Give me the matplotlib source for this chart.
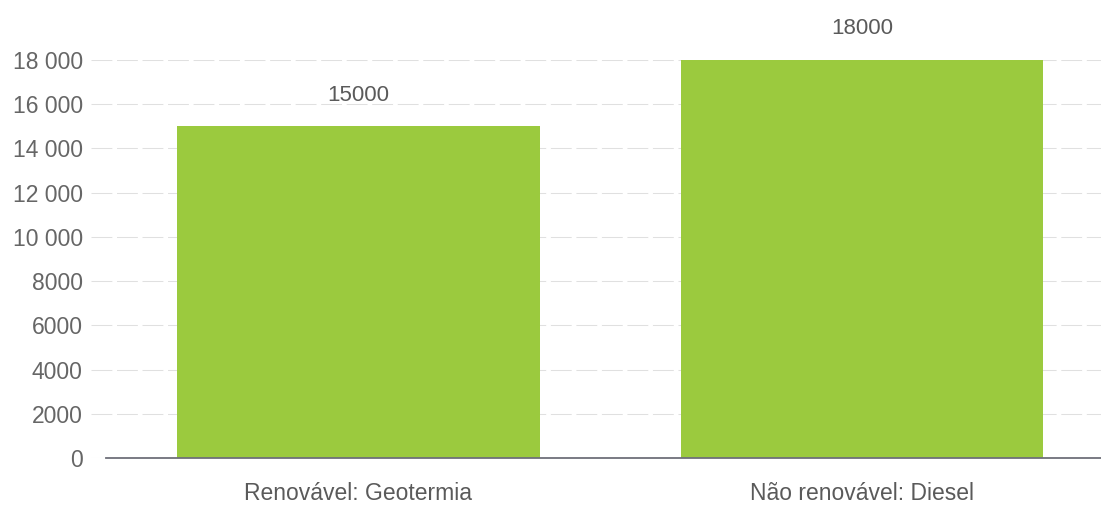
import matplotlib.pyplot as plt

categories = ["Renovável: Geotermia", "Não renovável: Diesel"]
values = [15000, 18000]
y_ticks = [0, 2000, 4000, 6000, 8000, 10000, 12000, 14000, 16000, 18000]
y_tick_labels = ["0", "2000", "4000", "6000", "8000", "10 000", "12 000", "14 000", "16 000", "18 000"]

plt.rcParams['font.family'] = ['Liberation Sans', 'DejaVu Sans']

W, H = 1101, 505
fig = plt.figure(figsize=(W / 100, H / 100), dpi=100)
# axes from x=91px to 1114px (past the right edge), y from 458px to 60px
ax = fig.add_axes([91 / W, (H - 458) / H, (1114 - 91) / W, (458 - 60) / H])

bar_color = '#9bca3e'
x_pos = range(len(categories))
ax.bar(x_pos, values, width=0.72, color=bar_color, zorder=2)

for i, v in enumerate(values):
    ax.annotate(f"{v}", (i, v), xytext=(0, 22.5), textcoords='offset points',
                ha='center', va='center', fontsize=16, color='#5a5a5a',
                annotation_clip=False)

ax.set_xlim(-0.53, 1.5)
ax.set_ylim(0, 18000)

ax.set_yticks(y_ticks)
ax.set_yticklabels(y_tick_labels, fontsize=16.5, color='#666666')
ax.set_xticks(list(x_pos))
ax.set_xticklabels(categories, fontsize=16.5, color='#5a5a5a')
ax.tick_params(axis='y', length=0, pad=6)
ax.tick_params(axis='x', length=0, pad=17)

ax.yaxis.grid(True, color='#e0e0e0', linewidth=0.75, linestyle=(0, (20, 4.5)), zorder=0)
ax.set_axisbelow(True)

for side in ['top', 'right', 'left']:
    ax.spines[side].set_visible(False)
ax.spines['bottom'].set_color('#6e7079')
ax.spines['bottom'].set_linewidth(1.3)
ax.spines['bottom'].set_bounds(-0.5, 1.5)
ax.spines['bottom'].set_zorder(3)

fig.savefig('out.png', dpi=100)
